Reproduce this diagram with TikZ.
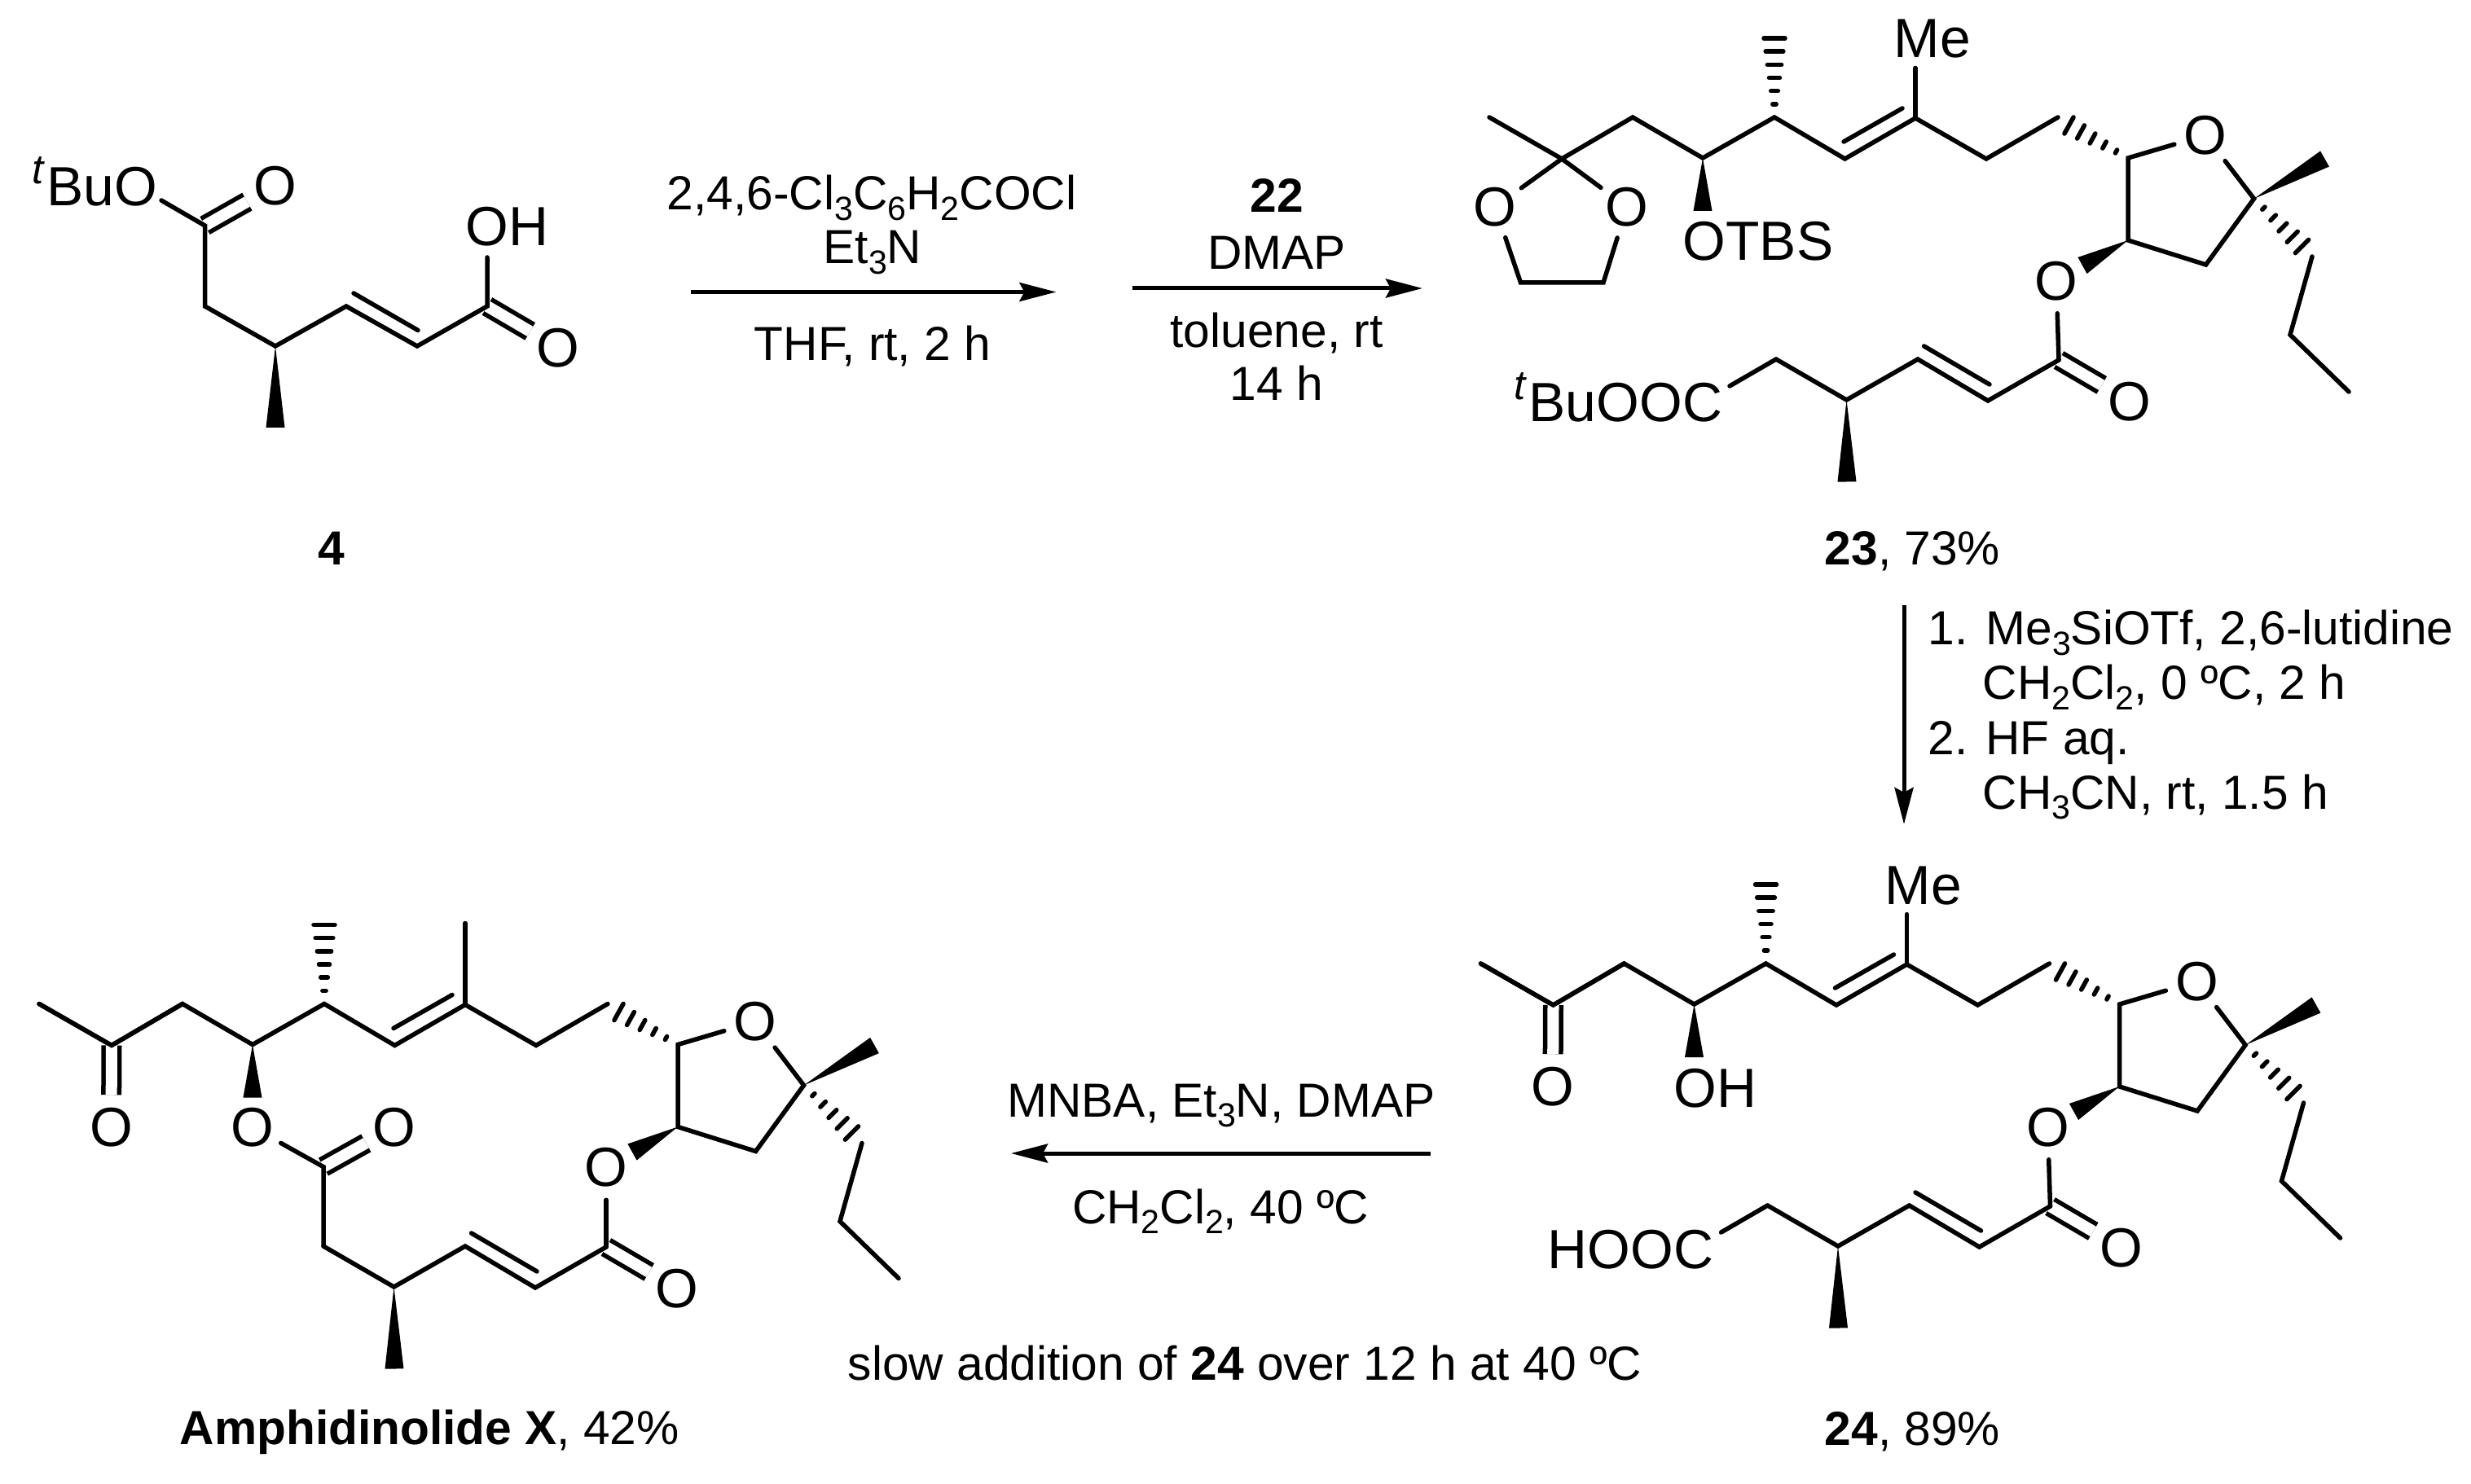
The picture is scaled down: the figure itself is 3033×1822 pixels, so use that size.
\documentclass[tikz,border=0pt]{standalone}
\usepackage{fontspec}
\setmainfont{Liberation Sans}
\usetikzlibrary{arrows.meta,calc}

\newcommand{\atomfont}{\fontsize{19.27}{23}\selectfont}
\newcommand{\reagentfont}{\fontsize{16.69}{20}\selectfont}
\newcommand{\subs}[1]{\raisebox{-.21em}{\scalebox{.7}{#1}}}
\newcommand{\tbu}{\raisebox{.4em}{\scalebox{.75}{\textit{t}}}\kern.03em Bu}
\newcommand{\wedgebond}[3]{\fill (#1) -- ($(#2)!#3!90:(#1)$) -- ($(#2)!#3!-90:(#1)$) -- cycle;}
\newcommand{\hashbond}[4]{\foreach \i in {1,...,#3}{
    \pgfmathsetmacro{\hw}{#4*\i/#3}
    \draw ($(#1)!\i/#3!(#2)!\hw cm!90:(#1)$) -- ($(#1)!\i/#3!(#2)!\hw cm!-90:(#1)$);
}}

\tikzset{
    atom/.style={circle, inner sep=0pt, minimum size=.74cm, font=\atomfont},
    label/.style={inner sep=0pt, anchor=base west, font=\atomfont},
    reagent/.style={inner sep=0pt, anchor=base, font=\reagentfont},
    reagentl/.style={inner sep=0pt, anchor=base west, font=\reagentfont},
    dblbond/.style={double, double distance=.14cm, line cap=butt},
    rxn/.style={line width=.05cm, line cap=butt, -{Stealth[length=.45cm, width=.23cm, inset=.06cm]}},
    chainbody/.pic={
        \coordinate (-ch3) at (1828, 144);
        \coordinate (-ck) at (1917, 195);
        \coordinate (-c1) at (2004, 144);
        \coordinate (-co) at (2090, 194);
        \coordinate (-cm) at (2178, 144);
        \coordinate (-ce) at (2264.5, 195);
        \coordinate (-cq) at (2351, 145);
        \coordinate (-c2) at (2438, 195);
        \coordinate (-c3) at (2526, 144);
        \coordinate (-r5) at (2612, 194);
        \coordinate (-r4) at (2612, 295);
        \coordinate (-r3) at (2707.6, 325);
        \coordinate (-r2) at (2766.6, 244);
        \coordinate (-p1) at (2838, 315);
        \coordinate (-p2) at (2811, 411);
        \coordinate (-p3) at (2883, 481);
        \coordinate (-wo) at (2090, 259);
        \coordinate (-hm) at (2178, 47);
        \coordinate (-d1) at (2263, 174);
        \coordinate (-d2) at (2335, 133);
        \coordinate (-h3) at (2539.5, 154);
        \coordinate (-wm) at (2853.5, 195);
        \coordinate (-hp) at (2825.5, 302.5);
        \coordinate (-we) at (2556, 326);
        \node[atom] (-ro) at (2707, 166) {O};
        \node[atom] (-eo) at (2524, 345) {O};
        \draw (-ch3) -- (-ck) -- (-c1) -- (-co) -- (-cm) -- (-ce) -- (-cq) -- (-c2) -- (-c3);
        \draw (-d1) -- (-d2);
        \draw (-ro) -- (-r2) -- (-r3) -- (-r4) -- (-r5) -- (-ro);
        \draw (-p1) -- (-p2) -- (-p3);
        \wedgebond{-co}{-wo}{.115cm}
        \wedgebond{-r2}{-wm}{.11cm}
        \wedgebond{-r4}{-we}{.115cm}
        \hashbond{-cm}{-hm}{6}{.13}
        \hashbond{-r5}{-h3}{5}{.115}
        \hashbond{-r2}{-hp}{5}{.115}
    },
    enoate/.pic={
        \coordinate (-b1) at (2527, 442);
        \coordinate (-b2) at (2440, 492);
        \coordinate (-b3) at (2354, 441);
        \coordinate (-b4) at (2266.5, 491);
        \coordinate (-b5) at (2180, 441);
        \coordinate (-d3) at (2361.6, 425);
        \coordinate (-d4) at (2442, 472);
        \coordinate (-wb) at (2267, 591.5);
        \node[atom] (-bo) at (2614, 493) {O};
        \draw[dblbond] (-b1) -- (-bo);
        \draw (-b1) -- (-b2) -- (-b3) -- (-b4) -- (-b5);
        \draw (-d3) -- (-d4);
        \wedgebond{-b4}{-wb}{.115cm}
    },
}

\begin{document}
\begin{tikzpicture}[x=.01cm, y=-.01cm, line width=.055cm, line cap=round]
    \useasboundingbox (0, 0) rectangle (3033, 1822);

    % compound 4
    \coordinate (f1) at (251.5, 277);
    \coordinate (f2) at (251.5, 376);
    \coordinate (f3) at (338, 425);
    \coordinate (f4) at (425, 376);
    \coordinate (f5) at (512, 425);
    \coordinate (f6) at (598, 376);
    \coordinate (fw) at (338, 525);
    \coordinate (fd1) at (434, 360);
    \coordinate (fd2) at (513, 405.5);
    \coordinate (fh) at (598, 316);
    \coordinate (fe) at (198, 246);
    \node[label] (fester) at (37, 253) {\tbu O};
    \node[label] (foh) at (569, 302) {OH};
    \node[atom] (fo1) at (338, 228) {O};
    \node[atom] (fo2) at (685, 427) {O};
    \draw[dblbond] (f1) -- (fo1);
    \draw[dblbond] (f6) -- (fo2);
    \draw (fe) -- (f1) -- (f2) -- (f3) -- (f4) -- (f5) -- (f6) -- (fh);
    \draw (fd1) -- (fd2);
    \wedgebond{f3}{fw}{.115cm}
    \node[reagent, font=\reagentfont\bfseries] (fname) at (407, 694) {4};

    % first two arrows
    \coordinate (a1s) at (847.6, 358.5);
    \coordinate (a1e) at (1296.4, 358.5);
    \coordinate (a2s) at (1389.5, 354);
    \coordinate (a2e) at (1746, 354);
    \draw[rxn] (a1s) -- (a1e);
    \draw[rxn] (a2s) -- (a2e);
    \node[reagent] (r1) at (1070, 258) {2,4,6-Cl\subs{3}C\subs{6}H\subs{2}COCl};
    \node[reagent] (r2) at (1071, 324) {Et\subs{3}N};
    \node[reagent] (r3) at (1071, 443) {THF, rt, 2 h};
    \node[reagent, font=\reagentfont\bfseries] (r4) at (1567, 261) {22};
    \node[reagent] (r5) at (1567, 331) {DMAP};
    \node[reagent] (r6) at (1567, 426.5) {toluene, rt};
    \node[reagent] (r7) at (1567, 492) {14 h};

    % compound 23
    \pic (A) at (0, 0) {chainbody};
    \pic (B) at (0, 0) {enoate};
    \coordinate (ame) at (2351, 83.5);
    \coordinate (ae1) at (1866.5, 347);
    \coordinate (ae2) at (1968, 347);
    \coordinate (ab) at (2123, 474);
    \node[atom] (aol) at (1835, 254) {O};
    \node[atom] (aor) at (1997, 254) {O};
    \node[label] (amet) at (2322, 71) {Me};
    \node[label] (aotbs) at (2063, 320) {OTBS};
    \node[label] (abu) at (1856, 518) {\tbu OOC};
    \draw (A-cq) -- (ame);
    \draw (aol) -- (A-ck) -- (aor) -- (ae2) -- (ae1) -- (aol);
    \draw (A-eo) -- (B-b1);
    \draw (B-b5) -- (ab);
    \node[reagentl] (aname) at (2237, 694) {\textbf{23}, 73\%};

    % arrow down
    \coordinate (a3s) at (2337, 743);
    \coordinate (a3e) at (2337, 1012);
    \draw[rxn] (a3s) -- (a3e);
    \node[reagentl] (s1) at (2364, 791.7) {1. Me\subs{3}SiOTf, 2,6-lutidine};
    \node[reagentl] (s2) at (2431, 859) {CH\subs{2}Cl\subs{2}, 0 ºC, 2 h};
    \node[reagentl] (s3) at (2364, 926.7) {2. HF aq.};
    \node[reagentl] (s4) at (2431, 993) {CH\subs{3}CN, rt, 1.5 h};

    % compound 24
    \pic (C) at (-10.5, 1039) {chainbody};
    \pic (D) at (-10.5, 1039) {enoate};
    \coordinate (cme) at (2340.5, 1122.5);
    \coordinate (cb) at (2112.6, 1513);
    \node[atom] (cok) at (1906, 1334) {O};
    \node[label] (cmet) at (2311, 1110) {Me};
    \node[label] (coh) at (2052, 1359) {OH};
    \node[label] (chooc) at (1897, 1557) {HOOC};
    \draw[dblbond] (C-ck) -- (cok);
    \draw (C-ch3) -- (C-ck) -- (C-c1);
    \draw (C-cq) -- (cme);
    \draw (C-eo) -- (D-b1);
    \draw (D-b5) -- (cb);
    \node[reagentl] (cname) at (2237, 1774) {\textbf{24}, 89\%};

    % arrow left
    \coordinate (a4s) at (1756, 1416);
    \coordinate (a4e) at (1241, 1416);
    \draw[rxn] (a4s) -- (a4e);
    \node[reagent] (m1) at (1499, 1371) {MNBA, Et\subs{3}N, DMAP};
    \node[reagent] (m2) at (1498, 1502) {CH\subs{2}Cl\subs{2}, 40 ºC};
    \node[reagentl] (m3) at (1038, 1694) {slow addition of \textbf{24} over 12 h at 40 ºC};

    % amphidinolide X
    \pic (E) at (-1780, 1088.5) {chainbody};
    \pic (F) at (-1783, 1089) {enoate};
    \coordinate (eme) at (571, 1133.5);
    \coordinate (ec) at (397, 1432.6);
    \node[atom] (eok) at (136.5, 1384) {O};
    \node[atom] (eoe) at (310, 1384) {O};
    \node[atom] (eoc) at (484, 1384) {O};
    \draw[dblbond] (E-ck) -- (eok);
    \draw[dblbond] (ec) -- (eoc);
    \draw (E-ch3) -- (E-ck) -- (E-c1);
    \draw (E-cq) -- (eme);
    \draw (E-eo) -- (F-b1);
    \draw (eoe) -- (ec) -- (F-b5);
    \node[reagentl] (ename) at (218, 1773) {\textbf{Amphidinolide X}, 42\%};
\end{tikzpicture}
\end{document}
